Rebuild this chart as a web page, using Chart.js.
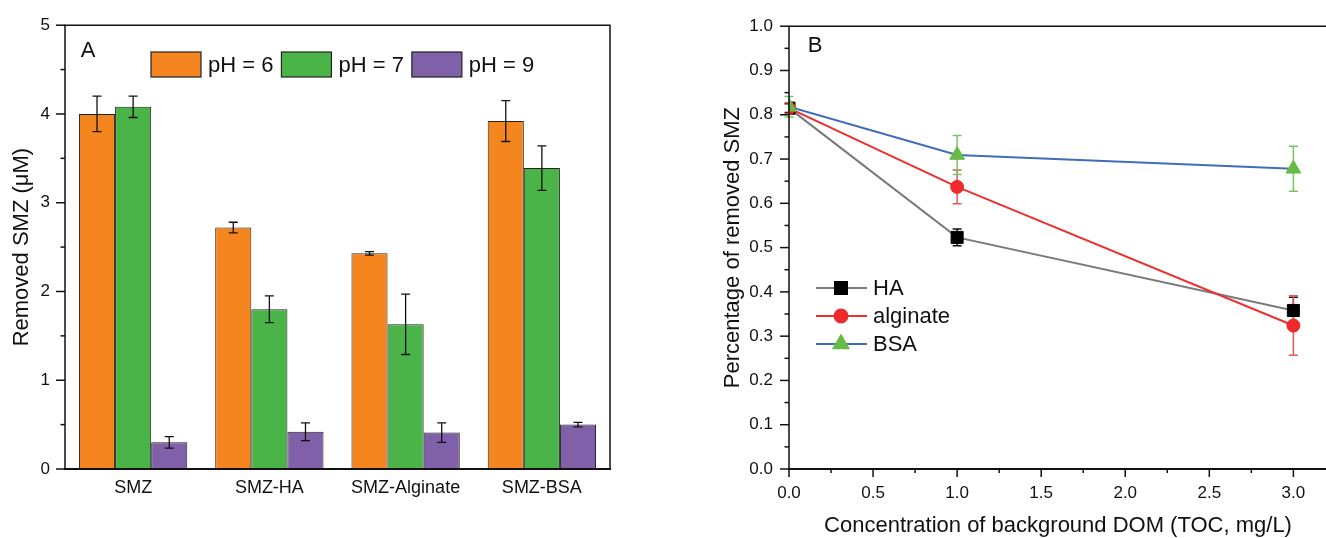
<!DOCTYPE html>
<html><head><meta charset="utf-8">
<script src="https://cdn.jsdelivr.net/npm/chart.js@4.4.1/dist/chart.umd.min.js"></script>
<style>
html,body{margin:0;padding:0;background:#fff;overflow:hidden;width:1326px;height:538px;}
#a{position:absolute;left:0;top:0;}
#b{position:absolute;left:700px;top:0;}
</style></head><body>
<canvas id="a" width="630" height="538"></canvas>
<canvas id="b" width="640" height="538"></canvas>
<script>
// ---------- Panel A data ----------
const categories = ['SMZ', 'SMZ-HA', 'SMZ-Alginate', 'SMZ-BSA'];
const phLabels = ['pH = 6', 'pH = 7', 'pH = 9'];
const removedPH6 = [4.00, 2.72, 2.43, 3.92];
const removedPH7 = [4.08, 1.80, 1.63, 3.39];
const removedPH9 = [0.30, 0.42, 0.41, 0.50];
const errPH6 = [0.20, 0.06, 0.02, 0.23];
const errPH7 = [0.12, 0.15, 0.34, 0.25];
const errPH9 = [0.065, 0.10, 0.11, 0.025];

// ---------- Panel B data ----------
const domConc = [0, 1, 3];
const seriesNames = ['HA', 'alginate', 'BSA'];
const pctHA = [0.815, 0.523, 0.358];
const pctAlginate = [0.815, 0.637, 0.324];
const pctBSA = [0.818, 0.709, 0.678];
const errHA = [0.010, 0.019, 0.030];
const errAlginate = [0.012, 0.038, 0.067];
const errBSA = [0.023, 0.044, 0.051];

const FONT = "'Liberation Sans', Arial, Helvetica, sans-serif";
Chart.defaults.font.family = FONT;
Chart.defaults.color = '#111';
Chart.defaults.animation = false;

// minor/major tick marks drawn from the library scales
function ticksPlugin(defs) {
  return {
    id: 'manualTicks',
    afterDraw(chart) {
      const ctx = chart.ctx, ca = chart.chartArea;
      ctx.save();
      ctx.strokeStyle = '#111';
      ctx.lineWidth = 1.5;
      defs.forEach(d => {
        const s = chart.scales[d.id];
        const vals = s.ticks.map(t => t.value);
        const list = vals.map(v => [v, d.major]);
        for (let i = 0; i < vals.length - 1; i++) list.push([(vals[i] + vals[i + 1]) / 2, d.minor]);
        list.forEach(([v, len]) => {
          const p = s.getPixelForValue(v);
          ctx.beginPath();
          if (d.id === 'y') { ctx.moveTo(ca.left - len, p); ctx.lineTo(ca.left, p); }
          else { ctx.moveTo(p, ca.bottom); ctx.lineTo(p, ca.bottom + len); }
          ctx.stroke();
        });
      });
      ctx.restore();
    }
  };
}

function framePlugin(bottomWidth) {
  return {
    id: 'frame',
    afterDraw(chart) {
      const ctx = chart.ctx, ca = chart.chartArea;
      ctx.save();
      ctx.strokeStyle = '#111';
      ctx.lineWidth = 1.5;
      ctx.beginPath();
      ctx.moveTo(ca.left, ca.bottom); ctx.lineTo(ca.left, ca.top);
      ctx.lineTo(ca.right, ca.top); ctx.lineTo(ca.right, ca.bottom);
      ctx.stroke();
      ctx.lineWidth = bottomWidth;
      ctx.beginPath();
      ctx.moveTo(ca.left - 1, ca.bottom); ctx.lineTo(ca.right + 1, ca.bottom);
      ctx.stroke();
      ctx.restore();
    }
  };
}

function panelLabel(text, x, y) {
  return {
    id: 'panelLabel',
    afterDraw(chart) {
      const ctx = chart.ctx;
      ctx.save();
      ctx.font = '22px ' + FONT;
      ctx.fillStyle = '#111';
      ctx.textAlign = 'center';
      ctx.textBaseline = 'middle';
      ctx.fillText(text, x, y);
      ctx.restore();
    }
  };
}

// ---------- Chart A ----------
const barErrors = [errPH6, errPH7, errPH9];
const barColors = ['#F5861F', '#4BB449', '#7F60A9'];

const errorBarsA = {
  id: 'errorBarsA',
  afterDatasetsDraw(chart) {
    const ctx = chart.ctx, ys = chart.scales.y;
    ctx.save();
    ctx.strokeStyle = '#111';
    ctx.lineWidth = 1.3;
    chart.data.datasets.forEach((ds, i) => {
      const meta = chart.getDatasetMeta(i);
      meta.data.forEach((bar, j) => {
        const v = ds.data[j], e = barErrors[i][j];
        const yt = ys.getPixelForValue(v + e), yb = ys.getPixelForValue(v - e);
        ctx.beginPath();
        ctx.moveTo(bar.x, yt); ctx.lineTo(bar.x, yb);
        ctx.moveTo(bar.x - 4.5, yt); ctx.lineTo(bar.x + 4.5, yt);
        ctx.moveTo(bar.x - 4.5, yb); ctx.lineTo(bar.x + 4.5, yb);
        ctx.stroke();
      });
    });
    ctx.restore();
  }
};

const legendA = {
  id: 'legendA',
  afterDraw(chart) {
    const ctx = chart.ctx;
    ctx.save();
    ctx.font = '22px ' + FONT;
    ctx.textBaseline = 'middle';
    let x = 151;
    const y = 52, h = 25, w = 50;
    chart.data.datasets.forEach(ds => {
      ctx.fillStyle = ds.backgroundColor;
      ctx.fillRect(x, y, w, h);
      ctx.strokeStyle = '#222';
      ctx.lineWidth = 1.2;
      ctx.strokeRect(x, y, w, h);
      x += w + 7;
      ctx.fillStyle = '#111';
      ctx.fillText(ds.label, x, y + h / 2 + 1);
      x += ctx.measureText(ds.label).width + 8;
    });
    ctx.restore();
  }
};

new Chart(document.getElementById('a'), {
  type: 'bar',
  data: {
    labels: categories,
    datasets: [removedPH6, removedPH7, removedPH9].map((d, i) => ({
      label: phLabels[i],
      data: d,
      backgroundColor: barColors[i],
      borderColor: '#222',
      borderWidth: 1,
      borderSkipped: 'bottom',
      categoryPercentage: 0.795,
      barPercentage: 1.0
    }))
  },
  options: {
    responsive: false,
    devicePixelRatio: 1,
    layout: { padding: { left: 0, right: 20, top: 25, bottom: 0 } },
    plugins: { legend: { display: false }, tooltip: { enabled: false } },
    scales: {
      x: {
        type: 'category',
        grid: { display: false, drawTicks: false },
        border: { display: false },
        ticks: { font: { size: 18 }, color: '#111', padding: 8, maxRotation: 0 },
        afterFit(s) { s.height = 69; }
      },
      y: {
        min: 0, max: 5,
        grid: { display: false, drawTicks: false },
        border: { display: false },
        ticks: { stepSize: 1, font: { size: 17 }, color: '#111', padding: 15 },
        title: { display: true, text: 'Removed SMZ (\u03BCM)', font: { size: 22 }, color: '#111', padding: { top: 9, bottom: 0 } },
        afterFit(s) { s.width = 65; }
      }
    }
  },
  plugins: [errorBarsA, framePlugin(2.2), ticksPlugin([{ id: 'y', major: 9, minor: 4.5 }]), legendA, panelLabel('A', 88, 51)]
});

// ---------- Chart B ----------
const lineSeries = [pctHA, pctAlginate, pctBSA];
const lineErrors = [errHA, errAlginate, errBSA];
const lineColors = ['#7A7A7A', '#EE3030', '#3F6DB8'];
const markerColors = ['#000000', '#EE2A2A', '#66BB44'];
const errColors = ['#111111', '#EE5555', '#77C466'];
const markerStyles = ['rect', 'circle', 'triangle'];
const markerRadius = [8.5, 6.5, 8.5];

const errorBarsB = {
  id: 'errorBarsB',
  beforeDatasetsDraw(chart) {
    const ctx = chart.ctx, ys = chart.scales.y, xs = chart.scales.x;
    ctx.save();
    ctx.lineWidth = 1.5;
    lineSeries.forEach((ser, i) => {
      ctx.strokeStyle = errColors[i];
      ser.forEach((v, j) => {
        const e = lineErrors[i][j];
        const x = xs.getPixelForValue(domConc[j]);
        const yt = ys.getPixelForValue(v + e), yb = ys.getPixelForValue(v - e);
        ctx.beginPath();
        ctx.moveTo(x, yt); ctx.lineTo(x, yb);
        ctx.moveTo(x - 4.5, yt); ctx.lineTo(x + 4.5, yt);
        ctx.moveTo(x - 4.5, yb); ctx.lineTo(x + 4.5, yb);
        ctx.stroke();
      });
    });
    ctx.restore();
  }
};

const legendB = {
  id: 'legendB',
  afterDraw(chart) {
    const ctx = chart.ctx;
    ctx.save();
    ctx.font = '22px ' + FONT;
    ctx.textBaseline = 'middle';
    const x0 = 116, x1 = 167, xm = 141, xt = 173;
    const ys = [288, 316, 344];
    seriesNames.forEach((name, i) => {
      const y = ys[i];
      ctx.strokeStyle = lineColors[i];
      ctx.lineWidth = 2;
      ctx.beginPath(); ctx.moveTo(x0, y); ctx.lineTo(x1, y); ctx.stroke();
      ctx.fillStyle = markerColors[i];
      ctx.strokeStyle = markerColors[i];
      Chart.helpers.drawPoint(ctx, { pointStyle: markerStyles[i], radius: markerRadius[i], borderWidth: 1, rotation: 0 }, xm, y);
      ctx.fillStyle = '#111';
      ctx.fillText(name, xt, y + 1);
    });
    ctx.restore();
  }
};

new Chart(document.getElementById('b'), {
  type: 'scatter',
  data: {
    datasets: lineSeries.map((ser, i) => ({
      label: seriesNames[i],
      data: domConc.map((x, j) => ({ x: x, y: ser[j] })),
      showLine: true,
      borderColor: lineColors[i],
      borderWidth: 2,
      pointStyle: markerStyles[i],
      pointRadius: markerRadius[i],
      pointBackgroundColor: markerColors[i],
      pointBorderColor: markerColors[i],
      pointBorderWidth: 1,
      order: 2 - i
    }))
  },
  options: {
    responsive: false,
    devicePixelRatio: 1,
    layout: { padding: { left: 0, right: 13, top: 25, bottom: 0 } },
    plugins: { legend: { display: false }, tooltip: { enabled: false } },
    scales: {
      x: {
        type: 'linear', min: 0, max: 3.2,
        grid: { display: false, drawTicks: false },
        border: { display: false },
        ticks: { stepSize: 0.5, includeBounds: false, font: { size: 17 }, color: '#111', padding: 14, callback: v => v.toFixed(1) },
        title: { display: true, text: 'Concentration of background DOM (TOC, mg/L)', font: { size: 22, lineHeight: 1.0 }, color: '#111', padding: { top: 1, bottom: 1 } },
        afterFit(s) { s.height = 69; }
      },
      y: {
        min: 0, max: 1,
        grid: { display: false, drawTicks: false },
        border: { display: false },
        ticks: { stepSize: 0.1, font: { size: 17 }, color: '#111', padding: 16, callback: v => v.toFixed(1) },
        title: { display: true, text: 'Percentage of removed SMZ', font: { size: 22 }, color: '#111', padding: { top: 20, bottom: 0 } },
        afterFit(s) { s.width = 89; }
      }
    }
  },
  plugins: [errorBarsB, framePlugin(1.8), ticksPlugin([{ id: 'y', major: 9, minor: 4.5 }, { id: 'x', major: 8, minor: 4 }]), legendB, panelLabel('B', 115, 46)]
});
</script>
</body></html>
